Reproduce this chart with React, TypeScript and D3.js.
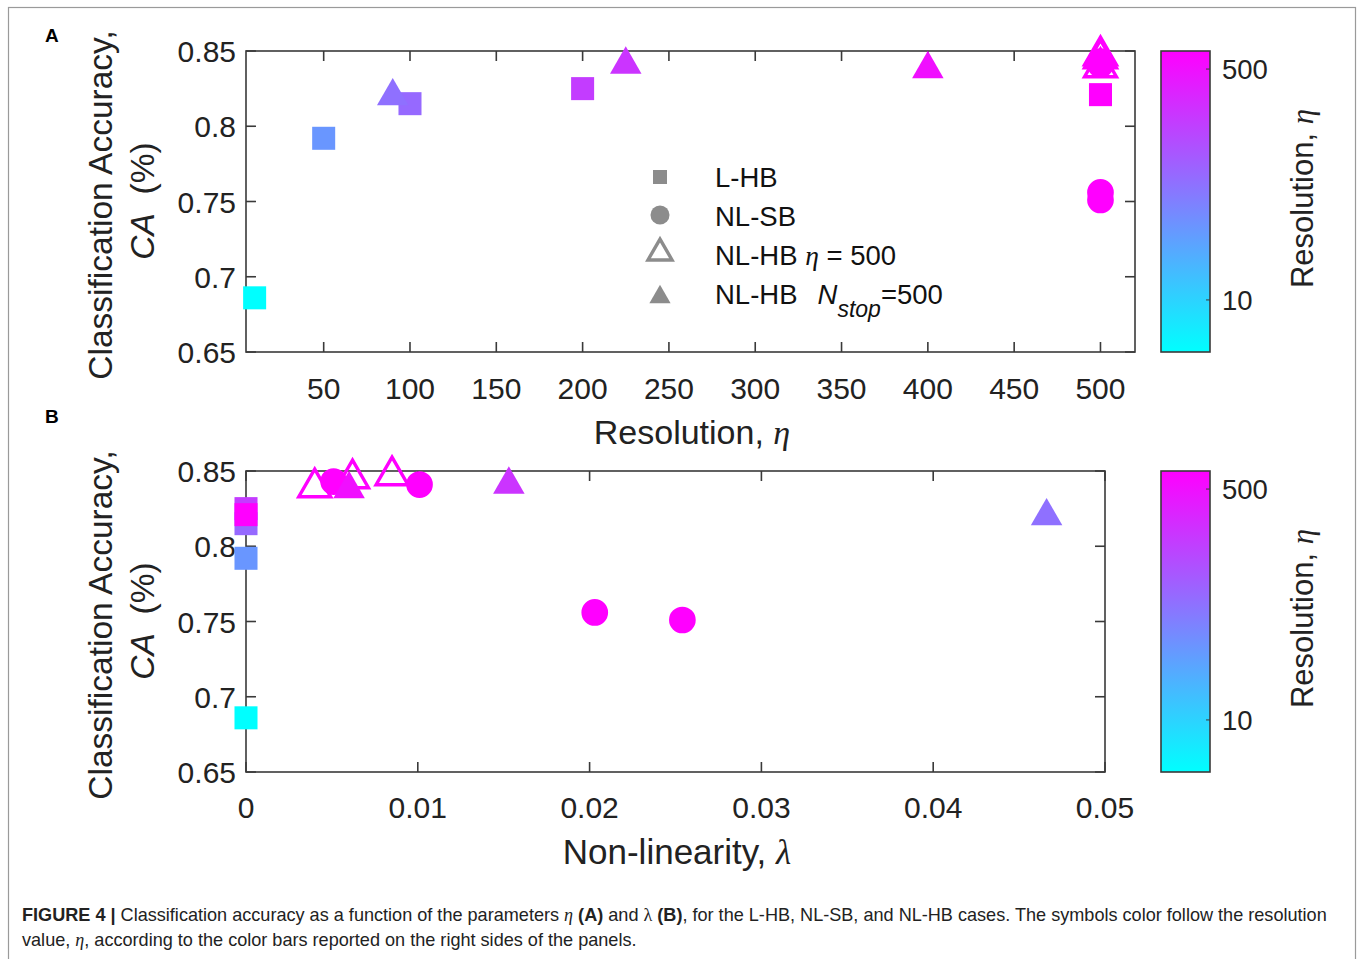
import React from 'react';
import * as d3 from 'd3';

// L-HB (linear, hard boundary): lambda = 0
const lhbEta = [10, 50, 100, 200, 500];
const lhbLambda = [0, 0, 0, 0, 0];
const lhbCA = [0.686, 0.792, 0.815, 0.825, 0.821];

// NL-SB (eta = 500)
const nlsbEta = [500, 500, 500, 500];
const nlsbLambda = [0.0051, 0.0101, 0.0203, 0.0254];
const nlsbCA = [0.843, 0.841, 0.756, 0.751];

// NL-HB eta = 500 (open triangles)
const nlhbEtaEta = [500, 500, 500];
const nlhbEtaLambda = [0.004, 0.0062, 0.0085];
const nlhbEtaCA = [0.839, 0.845, 0.847];

// NL-HB Nstop = 500 (filled triangles)
const nlhbStopEta = [90, 225, 400];
const nlhbStopLambda = [0.0466, 0.0153, 0.006];
const nlhbStopCA = [0.82, 0.841, 0.838];

const etaTicks = [50, 100, 150, 200, 250, 300, 350, 400, 450, 500];
const lambdaTicks = [0, 0.01, 0.02, 0.03, 0.04, 0.05];
const caTicks = [0.65, 0.7, 0.75, 0.8, 0.85];
const cbTicks = [10, 500];

const legendLabels = ['L-HB', 'NL-SB', 'NL-HB', 'NL-HB'];

const SANS = '"Liberation Sans", Arial, sans-serif';
const SERIF = '"Liberation Serif", "Times New Roman", serif';
const AX = '#3a3a3a';
const GRAY = '#8c8c8c';

const color = d3.scaleLog().domain([10, 500]).range([0, 1]).clamp(true);
const cool = d3.interpolateRgb('#00ffff', '#ff00ff');
const col = (eta: number) => cool(color(eta));

const sq = d3.symbol(d3.symbolSquare, 530)();
const circ = d3.symbol(d3.symbolCircle, 560)();
const tri = d3.symbol(d3.symbolTriangle, 430)();
const triOpen = d3.symbol(d3.symbolTriangle, 440)();

type Pt = { x: number; y: number; eta: number; shape: string; open?: boolean };

function zip(xs: number[], ys: number[], etas: number[], shape: string, open = false): Pt[] {
  return xs.map((x, i) => ({ x, y: ys[i], eta: etas[i], shape, open }));
}

function Marker({ p, sx, sy }: { p: Pt; sx: any; sy: any }) {
  const d = p.shape === 'sq' ? sq : p.shape === 'circ' ? circ : p.open ? triOpen : tri;
  const c = col(p.eta);
  return (
    <path
      d={d as string}
      transform={`translate(${sx(p.x)},${sy(p.y)})`}
      fill={p.open ? 'none' : c}
      stroke={c}
      strokeWidth={p.open ? 3.4 : 0}
    />
  );
}

function Frame({ sx, sy, xt, fmt, x0, x1, y0, y1, labelY }: any) {
  return (
    <g>
      <rect x={x0} y={y1} width={x1 - x0} height={y0 - y1} fill="none" stroke={AX} strokeWidth={1.6} />
      {xt.map((t: number) => (
        <g key={'x' + t}>
          <line x1={sx(t)} x2={sx(t)} y1={y0} y2={y0 - 10} stroke={AX} strokeWidth={1.6} />
          <line x1={sx(t)} x2={sx(t)} y1={y1} y2={y1 + 10} stroke={AX} strokeWidth={1.6} />
          <text x={sx(t)} y={labelY} textAnchor="middle" fontSize={30} fontFamily={SANS} fill="#222">
            {fmt(t)}
          </text>
        </g>
      ))}
      {caTicks.map((t) => (
        <g key={'y' + t}>
          <line x1={x0} x2={x0 + 10} y1={sy(t)} y2={sy(t)} stroke={AX} strokeWidth={1.6} />
          <line x1={x1} x2={x1 - 10} y1={sy(t)} y2={sy(t)} stroke={AX} strokeWidth={1.6} />
          <text x={236} y={sy(t) + 11} textAnchor="end" fontSize={30} fontFamily={SANS} fill="#222">
            {t === 0.7 || t === 0.8 ? t.toFixed(1) : t.toFixed(2)}
          </text>
        </g>
      ))}
    </g>
  );
}

function YLabel({ cy }: { cy: number }) {
  return (
    <g fontFamily={SANS} fontSize={33.5} fill="#222">
      <text transform={`translate(112,${cy}) rotate(-90)`} textAnchor="middle">
        Classification Accuracy,
      </text>
      <text transform={`translate(154,${cy - 4}) rotate(-90)`} textAnchor="middle">
        <tspan fontStyle="italic">CA</tspan>
        <tspan>{'\u00a0\u00a0(%)'}</tspan>
      </text>
    </g>
  );
}

function ColorBar({ top, bottom, id }: { top: number; bottom: number; id: string }) {
  const h = bottom - top;
  const cb = d3.scaleLog().domain([10, 500]).range([bottom - 0.173 * h, top + 0.06 * h]);
  return (
    <g>
      <defs>
        <linearGradient id={id} x1="0" y1="1" x2="0" y2="0">
          <stop offset="0" stopColor="#00ffff" />
          <stop offset="1" stopColor="#ff00ff" />
        </linearGradient>
      </defs>
      <rect x={1161} y={top} width={49} height={h} fill={`url(#${id})`} stroke={AX} strokeWidth={1.6} />
      {cbTicks.map((t) => (
        <g key={t}>
          <line x1={1210} x2={1206} y1={cb(t)} y2={cb(t)} stroke={AX} strokeWidth={1} />
          <text x={1222} y={cb(t) + 10} fontSize={27.5} fontFamily={SANS} fill="#222">
            {t}
          </text>
        </g>
      ))}
      <text
        transform={`translate(1313,${top + 0.49 * h}) rotate(-90)`}
        textAnchor="middle"
        fontSize={31}
        fontFamily={SANS}
        fill="#222"
      >
        Resolution,{' '}
        <tspan fontFamily={SERIF} fontStyle="italic">
          η
        </tspan>
      </text>
    </g>
  );
}

export default function App() {
  const xA = d3.scaleLinear().domain([5, 520]).range([246, 1135]);
  const yA = d3.scaleLinear().domain([0.65, 0.85]).range([352, 51]);
  const xB = d3.scaleLinear().domain([0, 0.05]).range([246, 1105]);
  const yB = d3.scaleLinear().domain([0.65, 0.85]).range([772, 471]);

  // Panel A: x = eta
  const ptsA: Pt[] = [
    ...zip(lhbEta, lhbCA, lhbEta, 'sq'),
    ...zip(nlsbEta, nlsbCA, nlsbEta, 'circ'),
    ...zip(nlhbStopEta, nlhbStopCA, nlhbStopEta, 'tri'),
    ...zip(nlhbEtaEta, nlhbEtaCA, nlhbEtaEta, 'tri', true),
  ];
  // Panel B: x = lambda
  const ptsB: Pt[] = [
    ...zip(lhbLambda, lhbCA, lhbEta, 'sq'),
    ...zip(nlsbLambda, nlsbCA, nlsbEta, 'circ'),
    ...zip(nlhbEtaLambda, nlhbEtaCA, nlhbEtaEta, 'tri', true),
    ...zip(nlhbStopLambda, nlhbStopCA, nlhbStopEta, 'tri'),
  ];

  const legY = [177, 215, 253, 297];
  const legSq = d3.symbol(d3.symbolSquare, 196)();
  const legCirc = d3.symbol(d3.symbolCircle, 285)();
  const legTriO = d3.symbol(d3.symbolTriangle, 250)();
  const legTri = d3.symbol(d3.symbolTriangle, 195)();

  return (
    <svg
      width={1360}
      height={959}
      style={{ position: 'absolute', left: 0, top: 0, display: 'block', background: '#fff' }}
    >
      <rect x={0} y={0} width={1360} height={959} fill="#fff" />
      <rect x={8.5} y={7.5} width={1347} height={970} fill="none" stroke="#9a9a9a" strokeWidth={1.2} />

      <text x={45} y={42} fontSize={19} fontWeight="bold" fontFamily={SANS}>A</text>
      <text x={45} y={423} fontSize={19} fontWeight="bold" fontFamily={SANS}>B</text>

      {/* Panel A */}
      <Frame sx={xA} sy={yA} xt={etaTicks} fmt={(t: number) => String(t)} x0={246} x1={1135} y0={352} y1={51} labelY={399} />
      {ptsA.map((p, i) => (
        <Marker key={'a' + i} p={p} sx={xA} sy={yA} />
      ))}
      <YLabel cy={205} />
      <text x={692} y={444} textAnchor="middle" fontSize={34} fontFamily={SANS} fill="#222">
        Resolution,{' '}
        <tspan fontFamily={SERIF} fontStyle="italic">η</tspan>
      </text>

      {/* Legend */}
      <g fontFamily={SANS} fontSize={27.5} fill="#111">
        <path d={legSq as string} transform={`translate(660,${legY[0]})`} fill={GRAY} />
        <path d={legCirc as string} transform={`translate(660,${legY[1]})`} fill={GRAY} />
        <path d={legTriO as string} transform={`translate(660,${legY[2]})`} fill="none" stroke={GRAY} strokeWidth={3.4} />
        <path d={legTri as string} transform={`translate(660,${legY[3]})`} fill={GRAY} />
        <text x={715} y={187}>{legendLabels[0]}</text>
        <text x={715} y={226}>{legendLabels[1]}</text>
        <text x={715} y={265}>
          {legendLabels[2]}{' '}
          <tspan fontFamily={SERIF} fontStyle="italic">η</tspan>
          <tspan> = 500</tspan>
        </text>
        <text x={715} y={304}>
          {legendLabels[3]}
          <tspan dx={20} fontStyle="italic">N</tspan>
          <tspan dy={13} fontSize={23} fontStyle="italic">stop</tspan>
          <tspan dy={-13}>=500</tspan>
        </text>
      </g>
      <ColorBar top={51} bottom={352} id="cbA" />

      {/* Panel B */}
      <Frame sx={xB} sy={yB} xt={lambdaTicks} fmt={(t: number) => (t === 0 ? '0' : String(+t.toFixed(2)))} x0={246} x1={1105} y0={772} y1={471} labelY={818} />
      {ptsB.map((p, i) => (
        <Marker key={'b' + i} p={p} sx={xB} sy={yB} />
      ))}
      <YLabel cy={625} />
      <text x={677} y={864} textAnchor="middle" fontSize={35} fontFamily={SANS} fill="#222">
        Non-linearity,{' '}
        <tspan fontFamily={SERIF} fontStyle="italic">λ</tspan>
      </text>
      <ColorBar top={471} bottom={772} id="cbB" />

      {/* Caption */}
      <g fontFamily={SANS} fontSize={18.1} fill="#222">
        <text x={22} y={921}>
          <tspan fontWeight="bold">FIGURE 4 |</tspan>
          <tspan> Classification accuracy as a function of the parameters </tspan>
          <tspan fontFamily={SERIF} fontStyle="italic">η</tspan>
          <tspan fontWeight="bold"> (A)</tspan>
          <tspan> and </tspan>
          <tspan fontFamily={SERIF}>λ</tspan>
          <tspan fontWeight="bold"> (B)</tspan>
          <tspan>, for the L-HB, NL-SB, and NL-HB cases. The symbols color follow the resolution</tspan>
        </text>
        <text x={22} y={946}>
          <tspan>value, </tspan>
          <tspan fontFamily={SERIF} fontStyle="italic">η</tspan>
          <tspan>, according to the color bars reported on the right sides of the panels.</tspan>
        </text>
      </g>
    </svg>
  );
}
